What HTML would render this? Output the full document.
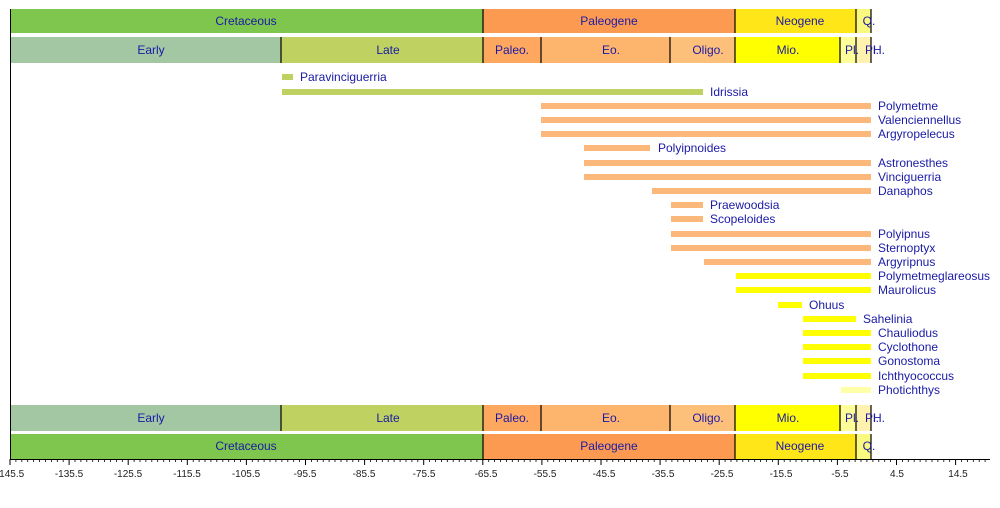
<!DOCTYPE html>
<html><head><meta charset="utf-8"><style>
html,body{margin:0;padding:0;background:#fff;width:1000px;height:508px;overflow:hidden}
text{font-family:"Liberation Sans",Arial,sans-serif}
.b{font-size:12px;fill:#1a1aa6;text-anchor:middle}
.l{font-size:12px;fill:#1a1aa6}
.t{font-size:10px;fill:#222;text-anchor:middle}
</style></head><body>
<svg width="1000" height="508" xmlns="http://www.w3.org/2000/svg">
<!-- top period band -->
<rect x="10" y="9" width="473" height="24" fill="#7fc64e"/>
<rect x="483" y="9" width="252" height="24" fill="#fd9a52"/>
<rect x="735" y="9" width="121" height="24" fill="#ffe619"/>
<rect x="856" y="9" width="15" height="24" fill="#f9f97f"/>
<g stroke="#000" stroke-width="1.2"><line x1="483" y1="9" x2="483" y2="33"/><line x1="735" y1="9" x2="735" y2="33"/><line x1="856" y1="9" x2="856" y2="33"/><line x1="871" y1="9" x2="871" y2="33"/></g>
<text class="b" x="246" y="25">Cretaceous</text><text class="b" x="609" y="25">Paleogene</text><text class="b" x="800" y="25">Neogene</text><text class="b" x="869" y="25">Q.</text>
<!-- top epoch band -->
<rect x="10" y="37" width="271" height="26" fill="#a3c6a3"/>
<rect x="281" y="37" width="202" height="26" fill="#bfd160"/>
<rect x="483" y="37" width="58" height="26" fill="#fda75f"/>
<rect x="541" y="37" width="129" height="26" fill="#fdb46c"/>
<rect x="670" y="37" width="65" height="26" fill="#fdc07a"/>
<rect x="735" y="37" width="105" height="26" fill="#ffff00"/>
<rect x="840" y="37" width="16" height="26" fill="#ffff99"/>
<rect x="856" y="37" width="15" height="26" fill="#fff2ae"/>
<g stroke="#000" stroke-width="1.2"><line x1="281" y1="37" x2="281" y2="63"/><line x1="483" y1="37" x2="483" y2="63"/><line x1="541" y1="37" x2="541" y2="63"/><line x1="670" y1="37" x2="670" y2="63"/><line x1="735" y1="37" x2="735" y2="63"/><line x1="840" y1="37" x2="840" y2="63"/><line x1="856" y1="37" x2="856" y2="63"/><line x1="871" y1="37" x2="871" y2="63"/></g>
<text class="b" x="151" y="54">Early</text><text class="b" x="388" y="54">Late</text><text class="b" x="512" y="54">Paleo.</text><text class="b" x="611" y="54">Eo.</text><text class="b" x="708" y="54">Oligo.</text><text class="b" x="788" y="54">Mio.</text><text class="b" x="852" y="54">Pl.</text><text class="b" x="872" y="54">Pl.</text><text class="b" x="879" y="54">H.</text>
<!-- bottom epoch band -->
<rect x="10" y="405" width="271" height="26" fill="#a3c6a3"/>
<rect x="281" y="405" width="202" height="26" fill="#bfd160"/>
<rect x="483" y="405" width="58" height="26" fill="#fda75f"/>
<rect x="541" y="405" width="129" height="26" fill="#fdb46c"/>
<rect x="670" y="405" width="65" height="26" fill="#fdc07a"/>
<rect x="735" y="405" width="105" height="26" fill="#ffff00"/>
<rect x="840" y="405" width="16" height="26" fill="#ffff99"/>
<rect x="856" y="405" width="15" height="26" fill="#fff2ae"/>
<g stroke="#000" stroke-width="1.2"><line x1="281" y1="405" x2="281" y2="431"/><line x1="483" y1="405" x2="483" y2="431"/><line x1="541" y1="405" x2="541" y2="431"/><line x1="670" y1="405" x2="670" y2="431"/><line x1="735" y1="405" x2="735" y2="431"/><line x1="840" y1="405" x2="840" y2="431"/><line x1="856" y1="405" x2="856" y2="431"/><line x1="871" y1="405" x2="871" y2="431"/></g>
<text class="b" x="151" y="422">Early</text><text class="b" x="388" y="422">Late</text><text class="b" x="512" y="422">Paleo.</text><text class="b" x="611" y="422">Eo.</text><text class="b" x="708" y="422">Oligo.</text><text class="b" x="788" y="422">Mio.</text><text class="b" x="852" y="422">Pl.</text><text class="b" x="872" y="422">Pl.</text><text class="b" x="879" y="422">H.</text>
<!-- bottom period band -->
<rect x="10" y="434" width="473" height="25" fill="#7fc64e"/>
<rect x="483" y="434" width="252" height="25" fill="#fd9a52"/>
<rect x="735" y="434" width="121" height="25" fill="#ffe619"/>
<rect x="856" y="434" width="15" height="25" fill="#f9f97f"/>
<g stroke="#000" stroke-width="1.2"><line x1="483" y1="434" x2="483" y2="459"/><line x1="735" y1="434" x2="735" y2="459"/><line x1="856" y1="434" x2="856" y2="459"/><line x1="871" y1="434" x2="871" y2="459"/></g>
<text class="b" x="246" y="450">Cretaceous</text><text class="b" x="609" y="450">Paleogene</text><text class="b" x="800" y="450">Neogene</text><text class="b" x="869" y="450">Q.</text>
<!-- axes -->
<line x1="10.5" y1="9" x2="10.5" y2="460" stroke="#000"/>
<line x1="10" y1="459.5" x2="990" y2="459.5" stroke="#000"/>
<g stroke="#000" stroke-width="1">
<path d="M10 459v6M69.1 459v6M128.2 459v6M187.3 459v6M246.4 459v6M305.5 459v6M364.6 459v6M423.7 459v6M482.8 459v6M541.9 459v6M601 459v6M660.1 459v6M719.2 459v6M778.3 459v6M837.4 459v6M896.5 459v6M955.6 459v6"/>
</g>
<g id="minor" stroke="#000" stroke-width="0.8"></g>
<g class="t">
<text class="t" x="10" y="477">-145.5</text><text class="t" x="69" y="477">-135.5</text><text class="t" x="128" y="477">-125.5</text><text class="t" x="187" y="477">-115.5</text><text class="t" x="246" y="477">-105.5</text><text class="t" x="305" y="477">-95.5</text><text class="t" x="364" y="477">-85.5</text><text class="t" x="424" y="477">-75.5</text><text class="t" x="486" y="477">-65.5</text><text class="t" x="545" y="477">-55.5</text><text class="t" x="604" y="477">-45.5</text><text class="t" x="663" y="477">-35.5</text><text class="t" x="722" y="477">-25.5</text><text class="t" x="781" y="477">-15.5</text><text class="t" x="840" y="477">-5.5</text><text class="t" x="897" y="477">4.5</text><text class="t" x="958" y="477">14.5</text>
</g>
<!-- bars -->
<g>
<rect x="282" y="74" width="11" height="6" fill="#bfd160"/><text class="l" x="300" y="81">Paravinciguerria</text>
<rect x="282" y="89" width="421" height="6" fill="#bfd160"/><text class="l" x="710" y="96">Idrissia</text>
<rect x="541" y="103" width="330" height="6" fill="#fbb87a"/><text class="l" x="878" y="110">Polymetme</text>
<rect x="541" y="117" width="330" height="6" fill="#fbb87a"/><text class="l" x="878" y="124">Valenciennellus</text>
<rect x="541" y="131" width="330" height="6" fill="#fbb87a"/><text class="l" x="878" y="138">Argyropelecus</text>
<rect x="584" y="145" width="66" height="6" fill="#fbb87a"/><text class="l" x="658" y="152">Polyipnoides</text>
<rect x="584" y="160" width="287" height="6" fill="#fbb87a"/><text class="l" x="878" y="167">Astronesthes</text>
<rect x="584" y="174" width="287" height="6" fill="#fbb87a"/><text class="l" x="878" y="181">Vinciguerria</text>
<rect x="652" y="188" width="219" height="6" fill="#fbb87a"/><text class="l" x="878" y="195">Danaphos</text>
<rect x="671" y="202" width="32" height="6" fill="#fbb87a"/><text class="l" x="710" y="209">Praewoodsia</text>
<rect x="671" y="216" width="32" height="6" fill="#fbb87a"/><text class="l" x="710" y="223">Scopeloides</text>
<rect x="671" y="231" width="200" height="6" fill="#fbb87a"/><text class="l" x="878" y="238">Polyipnus</text>
<rect x="671" y="245" width="200" height="6" fill="#fbb87a"/><text class="l" x="878" y="252">Sternoptyx</text>
<rect x="704" y="259" width="167" height="6" fill="#fbb87a"/><text class="l" x="878" y="266">Argyripnus</text>
<rect x="736" y="273" width="135" height="6" fill="#ffff00"/><text class="l" x="878" y="280">Polymetmeglareosus</text>
<rect x="736" y="287" width="135" height="6" fill="#ffff00"/><text class="l" x="878" y="294">Maurolicus</text>
<rect x="778" y="302" width="24" height="6" fill="#ffff00"/><text class="l" x="809" y="309">Ohuus</text>
<rect x="803" y="316" width="53" height="6" fill="#ffff00"/><text class="l" x="863" y="323">Sahelinia</text>
<rect x="803" y="330" width="68" height="6" fill="#ffff00"/><text class="l" x="878" y="337">Chauliodus</text>
<rect x="803" y="344" width="68" height="6" fill="#ffff00"/><text class="l" x="878" y="351">Cyclothone</text>
<rect x="803" y="358" width="68" height="6" fill="#ffff00"/><text class="l" x="878" y="365">Gonostoma</text>
<rect x="803" y="373" width="68" height="6" fill="#ffff00"/><text class="l" x="878" y="380">Ichthyococcus</text>
<rect x="841" y="387" width="30" height="6" fill="#ffffa8"/><text class="l" x="878" y="394">Photichthys</text>
</g>
<!-- minor ticks -->
<path stroke="#000" stroke-width="0.8" d="M15.9 459v3M21.8 459v3M27.7 459v3M33.6 459v3M39.5 459v3M45.5 459v3M51.4 459v3M57.3 459v3M63.2 459v3M75 459v3M80.9 459v3M86.8 459v3M92.7 459v3M98.6 459v3M104.6 459v3M110.5 459v3M116.4 459v3M122.3 459v3M134.1 459v3M140 459v3M145.9 459v3M151.8 459v3M157.7 459v3M163.7 459v3M169.6 459v3M175.5 459v3M181.4 459v3M193.2 459v3M199.1 459v3M205 459v3M210.9 459v3M216.8 459v3M222.8 459v3M228.7 459v3M234.6 459v3M240.5 459v3M252.3 459v3M258.2 459v3M264.1 459v3M270 459v3M275.9 459v3M281.9 459v3M287.8 459v3M293.7 459v3M299.6 459v3M311.4 459v3M317.3 459v3M323.2 459v3M329.1 459v3M335 459v3M341 459v3M346.9 459v3M352.8 459v3M358.7 459v3M370.5 459v3M376.4 459v3M382.3 459v3M388.2 459v3M394.1 459v3M400.1 459v3M406 459v3M411.9 459v3M417.8 459v3M429.6 459v3M435.5 459v3M441.4 459v3M447.3 459v3M453.2 459v3M459.2 459v3M465.1 459v3M471 459v3M476.9 459v3M488.7 459v3M494.6 459v3M500.5 459v3M506.4 459v3M512.3 459v3M518.3 459v3M524.2 459v3M530.1 459v3M536 459v3M547.8 459v3M553.7 459v3M559.6 459v3M565.5 459v3M571.4 459v3M577.4 459v3M583.3 459v3M589.2 459v3M595.1 459v3M606.9 459v3M612.8 459v3M618.7 459v3M624.6 459v3M630.5 459v3M636.5 459v3M642.4 459v3M648.3 459v3M654.2 459v3M666 459v3M671.9 459v3M677.8 459v3M683.7 459v3M689.6 459v3M695.6 459v3M701.5 459v3M707.4 459v3M713.3 459v3M725.1 459v3M731 459v3M736.9 459v3M742.8 459v3M748.7 459v3M754.7 459v3M760.6 459v3M766.5 459v3M772.4 459v3M784.2 459v3M790.1 459v3M796 459v3M801.9 459v3M807.8 459v3M813.8 459v3M819.7 459v3M825.6 459v3M831.5 459v3M843.3 459v3M849.2 459v3M855.1 459v3M861 459v3M866.9 459v3M872.9 459v3M878.8 459v3M884.7 459v3M890.6 459v3M902.4 459v3M908.3 459v3M914.2 459v3M920.1 459v3M926 459v3M932 459v3M937.9 459v3M943.8 459v3M949.7 459v3M961.5 459v3M967.4 459v3M973.3 459v3M979.2 459v3M985.1 459v3"/>
</svg>
</body></html>
